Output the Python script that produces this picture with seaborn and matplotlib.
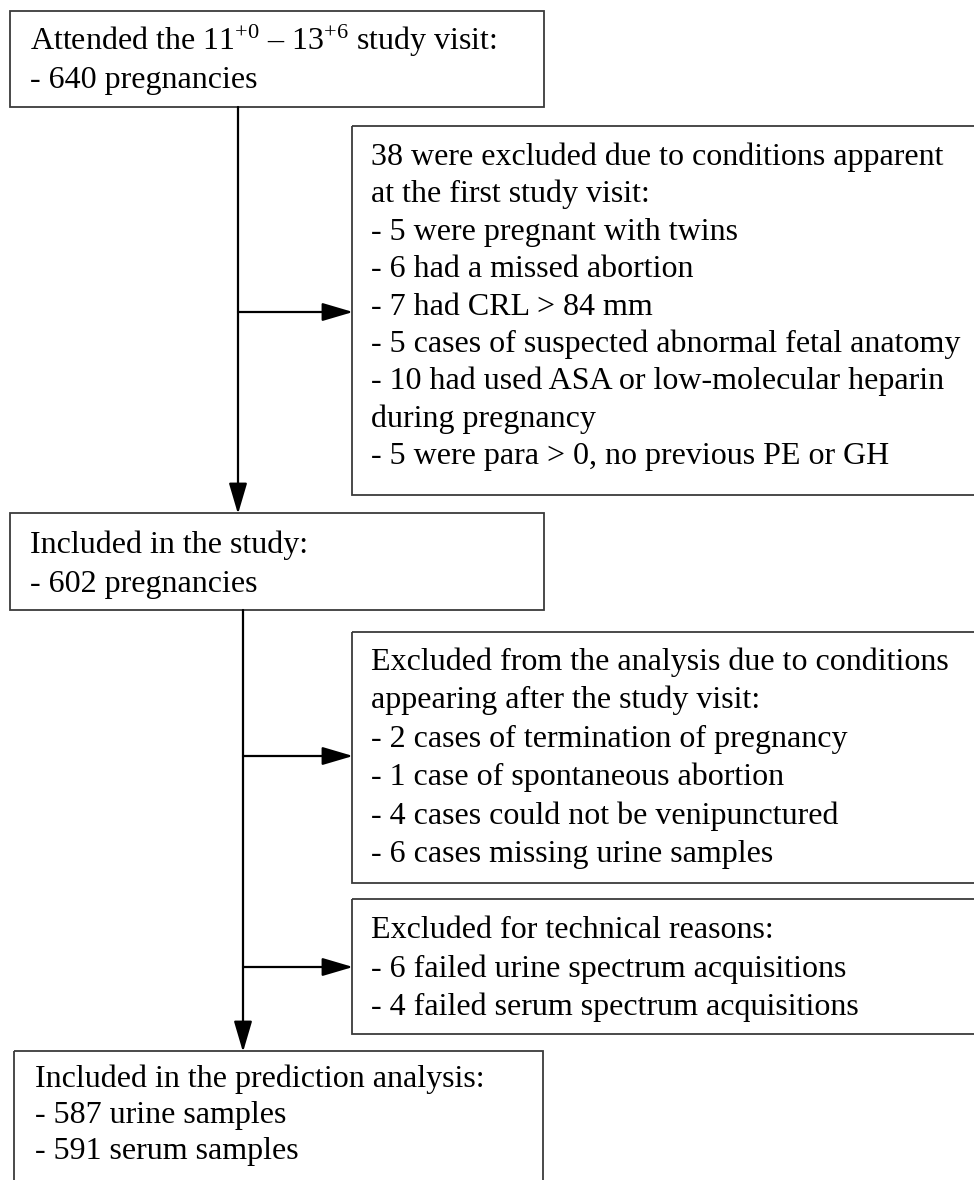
import matplotlib
matplotlib.use("Agg")
import matplotlib.pyplot as plt
import seaborn as sns
from matplotlib.patches import Rectangle

# ---------------- data (texts of the flow chart) ----------------
start_lines = [r"Attended the 11$^{\mathrm{+0}}$ – 13$^{\mathrm{+6}}$ study visit:",
               "- 640 pregnancies"]
excl1_lines = ["38 were excluded due to conditions apparent",
               "at the first study visit:",
               "- 5 were pregnant with twins",
               "- 6 had a missed abortion",
               "- 7 had CRL > 84 mm",
               "- 5 cases of suspected abnormal fetal anatomy",
               "- 10 had used ASA or low-molecular heparin",
               "during pregnancy",
               "- 5 were para > 0, no previous PE or GH"]
incl_lines = ["Included in the study:",
              "- 602 pregnancies"]
excl2_lines = ["Excluded from the analysis due to conditions",
               "appearing after the study visit:",
               "- 2 cases of termination of pregnancy",
               "- 1 case of spontaneous abortion",
               "- 4 cases could not be venipunctured",
               "- 6 cases missing urine samples"]
excl3_lines = ["Excluded for technical reasons:",
               "- 6 failed urine spectrum acquisitions",
               "- 4 failed serum spectrum acquisitions"]
final_lines = ["Included in the prediction analysis:",
               "- 587 urine samples",
               "- 591 serum samples"]

# ---------------- style ----------------
sns.set_theme(style="white")
plt.rcParams['font.family'] = ['Liberation Serif', 'DejaVu Serif']
plt.rcParams['mathtext.fontset'] = 'custom'
plt.rcParams['mathtext.rm'] = 'Liberation Serif'
plt.rcParams['mathtext.it'] = 'Liberation Serif:italic'
plt.rcParams['mathtext.bf'] = 'Liberation Serif:bold'

FS = 23
BOX_EC = "#3a3a3a"
W, H = 974, 1180

fig = plt.figure(figsize=(W / 100, H / 100), dpi=100)
ax = fig.add_axes([0, 0, 1, 1])
ax.set_xlim(0, W)
ax.set_ylim(H, 0)
ax.axis("off")

# layout: (x0, y0, x1, y1, text_x, first_baseline, line_step, lines)
boxes = [
    (10, 11, 544, 107, 30, 50, 38.0, start_lines),
    (352, 126, 1000, 495, 371, 165, 37.4, excl1_lines),
    (10, 513, 544, 610, 30, 553, 39.0, incl_lines),
    (352, 632, 1000, 883, 371, 670, 38.4, excl2_lines),
    (352, 899, 1000, 1034, 371, 938, 38.5, excl3_lines),
    (14, 1051, 543, 1230, 35, 1087, 36.0, final_lines),
]

for x0, y0, x1, y1, tx, by, step, lines in boxes:
    ax.add_patch(Rectangle((x0, y0), x1 - x0, y1 - y0, fill=False,
                           edgecolor=BOX_EC, linewidth=1.3, zorder=2))
    for i, line in enumerate(lines):
        ax.text(tx, by + i * step, line, fontsize=FS, color="black",
                ha="left", va="baseline", zorder=3)

arrow_kw = dict(arrowstyle="-|>,head_length=0.95,head_width=0.28",
                color="black", lw=1.6, mutation_scale=20,
                shrinkA=0, shrinkB=0)

def arrow(x0, y0, x1, y1):
    ax.annotate("", xy=(x1, y1), xytext=(x0, y0), arrowprops=arrow_kw, zorder=4)

# first trunk and branch
arrow(238, 107, 238, 514)
arrow(238, 312, 353, 312)
# second trunk and branches
arrow(243, 610, 243, 1052)
arrow(243, 756, 353, 756)
arrow(243, 967, 353, 967)

fig.savefig("out.png", dpi=100, facecolor="white")
